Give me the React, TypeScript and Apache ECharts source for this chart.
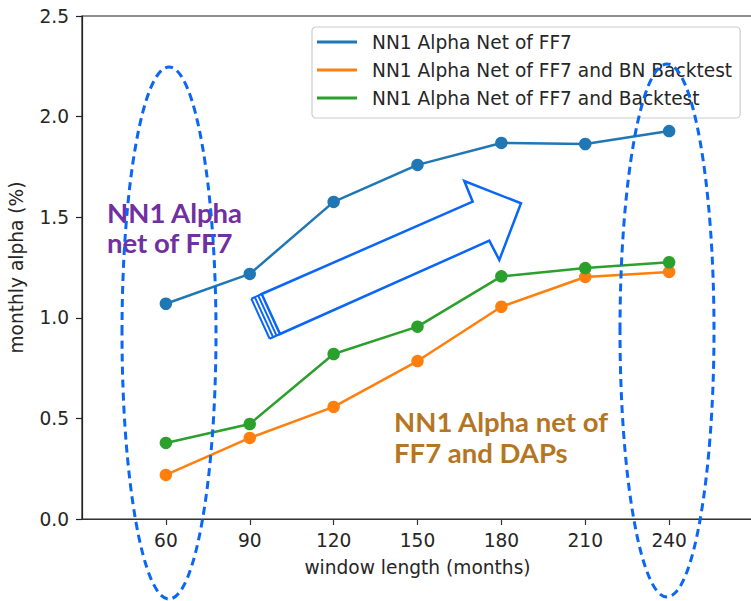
import React, { useEffect, useRef } from "react";
import * as echarts from "echarts";

const windowLengths = [60, 90, 120, 150, 180, 210, 240];
const seriesNames = [
  "NN1 Alpha Net of FF7",
  "NN1 Alpha Net of FF7 and BN Backtest",
  "NN1 Alpha Net of FF7 and Backtest",
];
const alphaFF7 = [1.07, 1.218, 1.576, 1.76, 1.869, 1.864, 1.928];
const alphaBN = [0.219, 0.403, 0.557, 0.785, 1.055, 1.203, 1.228];
const alphaBacktest = [0.378, 0.472, 0.82, 0.956, 1.206, 1.247, 1.276];
const yTicks = [0, 0.5, 1.0, 1.5, 2.0, 2.5];
const colors = ["#1f77b4", "#ff7f0e", "#2ca02c"];

const FONT = "DejaVu Sans";
const ANNO_BLUE = "#0a66f5";

export default function App() {
  const ref = useRef<HTMLDivElement>(null);
  useEffect(() => {
    if (!ref.current) return;
    const chart = echarts.init(ref.current, undefined, { renderer: "svg" });
    const mk = (name: string, data: number[], color: string) => ({
      type: "line",
      name,
      data: windowLengths.map((x, i) => [x, data[i]]),
      symbol: "circle",
      symbolSize: 12.5,
      lineStyle: { color, width: 2.5 },
      itemStyle: { color },
      z: 3,
    });
    const tailTop: [number, number] = [261.7, 294];
    const tailBot: [number, number] = [280, 334];
    const perp: [number, number] = [-0.909, 0.416];
    const stripes = [3.8, 7.6, 11.4].map((d) => ({
      type: "line",
      z: 100,
      shape: {
        x1: tailTop[0] + perp[0] * d,
        y1: tailTop[1] + perp[1] * d,
        x2: tailBot[0] + perp[0] * d,
        y2: tailBot[1] + perp[1] * d,
      },
      style: { stroke: ANNO_BLUE, lineWidth: 2 },
    }));
    const outerD = 11.4;
    chart.setOption({
      animation: false,
      backgroundColor: "#ffffff",
      grid: {
        left: 82,
        top: 16,
        width: 671,
        height: 503,
        outerBoundsMode: "none",
        containLabel: false,
        show: true,
        borderColor: "#222",
        borderWidth: 1.2,
        backgroundColor: "transparent",
      },
      xAxis: {
        type: "value",
        min: 30,
        max: 270,
        interval: 30,
        name: "window length (months)",
        nameLocation: "middle",
        nameGap: 39,
        nameTextStyle: { fontFamily: FONT, fontSize: 18.6, color: "#262626" },
        axisLine: { show: true, lineStyle: { color: "#333", width: 1.2 } },
        axisTick: {
          show: true,
          length: 6,
          customValues: windowLengths,
          lineStyle: { color: "#333", width: 1.2 },
        },
        axisLabel: {
          customValues: windowLengths,
          margin: 12,
          fontFamily: FONT,
          fontSize: 18.6,
          color: "#262626",
        },
        splitLine: { show: false },
      },
      yAxis: {
        type: "value",
        min: 0,
        max: 2.5,
        interval: 0.5,
        name: "monthly alpha (%)",
        nameLocation: "middle",
        nameGap: 56,
        nameTextStyle: { fontFamily: FONT, fontSize: 18.6, color: "#262626" },
        axisLine: { show: true, lineStyle: { color: "#222", width: 1.2 } },
        axisTick: {
          show: true,
          length: 6,
          customValues: yTicks,
          lineStyle: { color: "#222", width: 1.2 },
        },
        axisLabel: {
          customValues: yTicks,
          margin: 13,
          fontFamily: FONT,
          fontSize: 18.6,
          color: "#262626",
          formatter: (v: number) => v.toFixed(1),
        },
        splitLine: { show: false },
      },
      legend: {
        orient: "vertical",
        left: 312,
        top: 27,
        padding: [5, 8, 10, 5],
        itemGap: 8,
        itemWidth: 40,
        itemHeight: 3,
        icon: "rect",
        borderColor: "#cccccc",
        borderWidth: 1.2,
        borderRadius: 4,
        backgroundColor: "rgba(255,255,255,0.85)",
        textStyle: {
          fontFamily: FONT,
          fontSize: 18.6,
          color: "#262626",
          lineHeight: 20,
          padding: [0, 0, 0, 10],
        },
        data: seriesNames,
      },
      series: [
        mk(seriesNames[0], alphaFF7, colors[0]),
        mk(seriesNames[1], alphaBN, colors[1]),
        mk(seriesNames[2], alphaBacktest, colors[2]),
      ],
      graphic: [
        {
          type: "text",
          z: 90,
          x: 107,
          y: 197,
          style: {
            text: "NN1 Alpha\nnet of FF7",
            font: "bold 27.5px Lato",
            fill: "#7030a0",
            lineHeight: 30,
          },
        },
        {
          type: "text",
          z: 90,
          x: 394,
          y: 406,
          style: {
            text: "NN1 Alpha net of\nFF7 and DAPs",
            font: "bold 27.5px Lato",
            fill: "#b57624",
            lineHeight: 31,
          },
        },
        {
          type: "ellipse",
          z: 100,
          shape: { cx: 169, cy: 333, rx: 47, ry: 266 },
          style: { fill: "none", stroke: ANNO_BLUE, lineWidth: 3, lineDash: [8, 5] },
        },
        {
          type: "ellipse",
          z: 100,
          shape: { cx: 667, cy: 330.5, rx: 47, ry: 266.5 },
          style: { fill: "none", stroke: ANNO_BLUE, lineWidth: 3, lineDash: [8, 5] },
        },
        {
          type: "polygon",
          z: 100,
          shape: {
            points: [
              tailTop,
              [472.7, 201.7],
              [464.3, 181],
              [521, 203.3],
              [499.3, 260],
              [489.3, 240.7],
              tailBot,
            ],
          },
          style: { fill: "#ffffff", stroke: ANNO_BLUE, lineWidth: 2.5 },
        },
        ...stripes,
        {
          type: "polyline",
          z: 100,
          shape: {
            points: [
              tailTop,
              [tailTop[0] + perp[0] * outerD, tailTop[1] + perp[1] * outerD],
            ],
          },
          style: { stroke: ANNO_BLUE, lineWidth: 2 },
        },
        {
          type: "polyline",
          z: 100,
          shape: {
            points: [
              tailBot,
              [tailBot[0] + perp[0] * outerD, tailBot[1] + perp[1] * outerD],
            ],
          },
          style: { stroke: ANNO_BLUE, lineWidth: 2 },
        },
      ],
    });
    return () => chart.dispose();
  }, []);
  return (
    <div
      ref={ref}
      style={{ position: "absolute", left: 0, top: 0, width: 751, height: 601 }}
    />
  );
}
